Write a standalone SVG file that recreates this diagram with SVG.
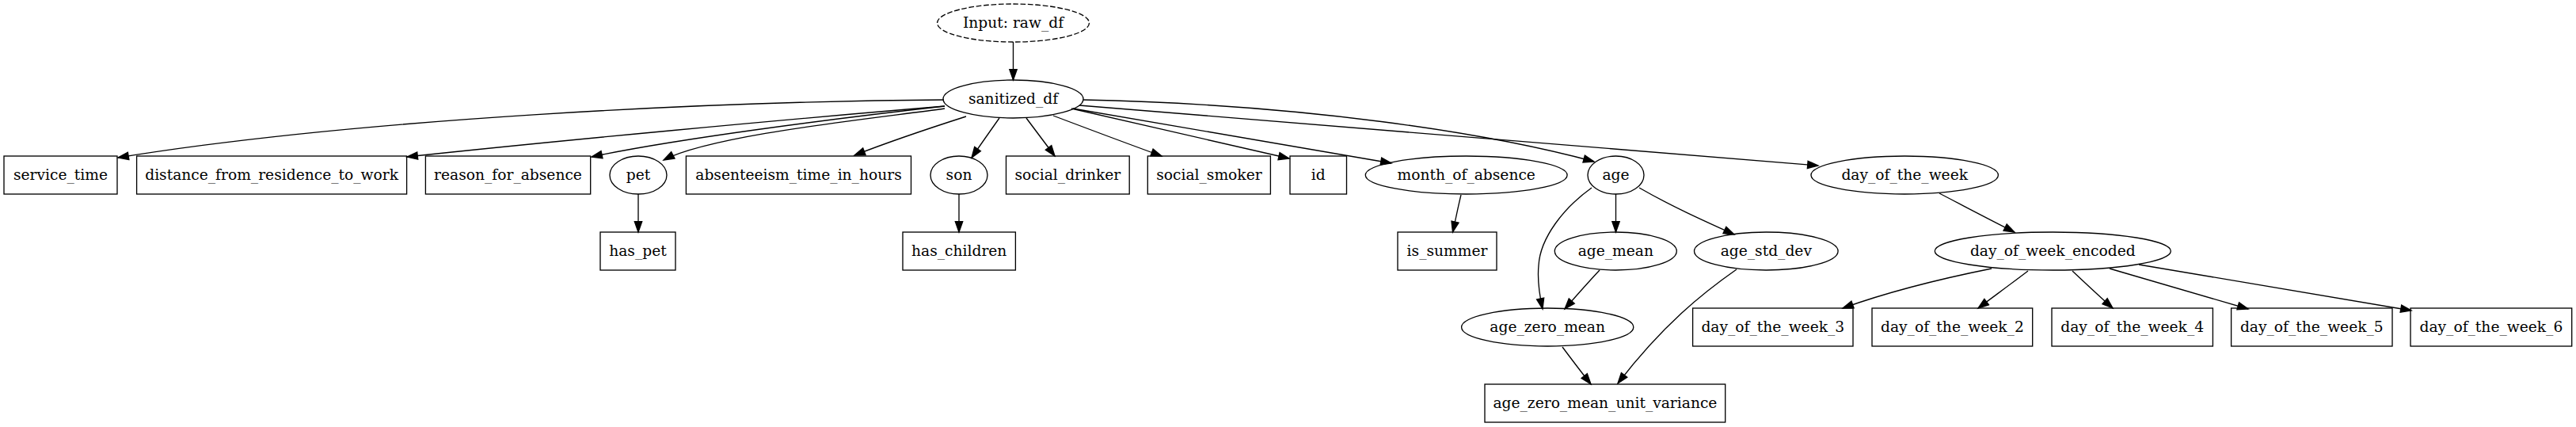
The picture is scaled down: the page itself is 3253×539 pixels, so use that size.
<svg xmlns="http://www.w3.org/2000/svg" width="3253" height="539" viewBox="0 0 3253 539">
<style>
.n ellipse, .n rect { fill: none; stroke: #000; stroke-width: 1.33; }
.dash { stroke-dasharray: 6.67 2.67; }
text { font-family: "DejaVu Serif", "Liberation Serif", serif; font-size: 18.67px; text-anchor: middle; fill: #000; }
#edges path { fill: none; stroke: #000; stroke-width: 1.33; marker-end: url(#ah); }
</style>
<defs>
<marker id="ah" markerUnits="userSpaceOnUse" markerWidth="16" markerHeight="12" refX="13.3" refY="4.67" orient="auto" overflow="visible">
<path d="M0,0 L13.3,4.67 L0,9.33 z" fill="#000" stroke="#000" stroke-width="1.33"/>
</marker>
</defs>
<rect x="0" y="0" width="3253" height="539" fill="#fff"/>
<g id="edges">
<path d="M1279.5,53 L1279.5,101"/>
<path d="M1192,126 C900,128 450,150 149,199"/>
<path d="M1193,134 C1000,150 700,178 514,198"/>
<path d="M1193,134 C1050,150 850,176 747,198"/>
<path d="M1193,137 C1100,150 900,170 838,202"/>
<path d="M1220,147 C1170,163 1120,180 1079,196"/>
<path d="M1262,149 C1250,166 1238,183 1227,199"/>
<path d="M1296,149 C1308,165 1320,181 1332,197"/>
<path d="M1330,146 C1375,163 1420,180 1467,197"/>
<path d="M1353,137 C1445,158 1535,179 1628,200"/>
<path d="M1355,137 C1490,160 1625,183 1757,206"/>
<path d="M1368,126 C1650,132 1880,168 2013,204"/>
<path d="M1363,133 C1700,161 2000,185 2296,209"/>
<path d="M806,245 L806,293"/>
<path d="M1211,245 L1211,293"/>
<path d="M1845,246 C1841,262 1838,278 1834.5,293"/>
<path d="M2040.5,245 L2040.5,293"/>
<path d="M2070,237 C2110,260 2150,278 2190,296"/>
<path d="M2010,237 C1975,262 1945,300 1943,335 C1941,355 1944,372 1948,390"/>
<path d="M2020,341 C2005,357 1990,374 1976,390"/>
<path d="M1973,438 C1985,454 1997,470 2009,485"/>
<path d="M2193,340 C2150,370 2100,410 2043,484"/>
<path d="M2449,244 C2480,260 2512,277 2544,293"/>
<path d="M2515,339 C2450,352 2380,370 2327,389"/>
<path d="M2561,342 C2540,358 2518,374 2498,389"/>
<path d="M2617,342 C2634,358 2651,374 2668,389"/>
<path d="M2664,339 C2722,356 2780,373 2839,390"/>
<path d="M2701,334 C2815,353 2930,372 3045,392"/>
</g>
<g id="raw_df" class="n"><ellipse class="dash" cx="1279.5" cy="29" rx="96" ry="24"/><text x="1279.5" y="34.5">Input: raw_df</text></g>
<g id="sanitized_df" class="n"><ellipse cx="1279.5" cy="125" rx="88.5" ry="24"/><text x="1279.5" y="130.5">sanitized_df</text></g>
<g id="service_time" class="n"><rect x="5" y="197" width="143" height="48"/><text x="76.5" y="226.5">service_time</text></g>
<g id="distance_from_residence_to_work" class="n"><rect x="172.6" y="197" width="341" height="48"/><text x="343.1" y="226.5">distance_from_residence_to_work</text></g>
<g id="reason_for_absence" class="n"><rect x="537.4" y="197" width="208.3" height="48"/><text x="641.5" y="226.5">reason_for_absence</text></g>
<g id="pet" class="n"><ellipse cx="806" cy="221" rx="36" ry="24"/><text x="806" y="226.5">pet</text></g>
<g id="absenteeism_time_in_hours" class="n"><rect x="866.4" y="197" width="284.1" height="48"/><text x="1008.5" y="226.5">absenteeism_time_in_hours</text></g>
<g id="son" class="n"><ellipse cx="1211" cy="221" rx="36" ry="24"/><text x="1211" y="226.5">son</text></g>
<g id="social_drinker" class="n"><rect x="1270.5" y="197" width="155.7" height="48"/><text x="1348.4" y="226.5">social_drinker</text></g>
<g id="social_smoker" class="n"><rect x="1449.3" y="197" width="155.1" height="48"/><text x="1526.9" y="226.5">social_smoker</text></g>
<g id="id" class="n"><rect x="1629" y="197" width="71.5" height="48"/><text x="1664.8" y="226.5">id</text></g>
<g id="month_of_absence" class="n"><ellipse cx="1851.7" cy="221" rx="127.4" ry="24"/><text x="1851.7" y="226.5">month_of_absence</text></g>
<g id="age" class="n"><ellipse cx="2040.5" cy="221" rx="35.5" ry="24"/><text x="2040.5" y="226.5">age</text></g>
<g id="day_of_the_week" class="n"><ellipse cx="2405.2" cy="221" rx="118.2" ry="24"/><text x="2405.2" y="226.5">day_of_the_week</text></g>
<g id="has_pet" class="n"><rect x="758" y="293" width="95" height="48"/><text x="805.5" y="322.5">has_pet</text></g>
<g id="has_children" class="n"><rect x="1140" y="293" width="142.4" height="48"/><text x="1211.2" y="322.5">has_children</text></g>
<g id="is_summer" class="n"><rect x="1765" y="293" width="125" height="48"/><text x="1827.5" y="322.5">is_summer</text></g>
<g id="age_mean" class="n"><ellipse cx="2040.3" cy="317" rx="77" ry="24"/><text x="2040.3" y="322.5">age_mean</text></g>
<g id="age_std_dev" class="n"><ellipse cx="2230.3" cy="317" rx="90.8" ry="24"/><text x="2230.3" y="322.5">age_std_dev</text></g>
<g id="day_of_week_encoded" class="n"><ellipse cx="2592.3" cy="317" rx="149" ry="24"/><text x="2592.3" y="322.5">day_of_week_encoded</text></g>
<g id="age_zero_mean" class="n"><ellipse cx="1954.2" cy="413" rx="108.6" ry="24"/><text x="1954.2" y="418.5">age_zero_mean</text></g>
<g id="day_of_the_week_3" class="n"><rect x="2137.6" y="389" width="202.4" height="48"/><text x="2238.8" y="418.5">day_of_the_week_3</text></g>
<g id="day_of_the_week_2" class="n"><rect x="2364" y="389" width="202.7" height="48"/><text x="2465.4" y="418.5">day_of_the_week_2</text></g>
<g id="day_of_the_week_4" class="n"><rect x="2591" y="389" width="203.4" height="48"/><text x="2692.7" y="418.5">day_of_the_week_4</text></g>
<g id="day_of_the_week_5" class="n"><rect x="2817.6" y="389" width="203.4" height="48"/><text x="2919.3" y="418.5">day_of_the_week_5</text></g>
<g id="day_of_the_week_6" class="n"><rect x="3044" y="389" width="203.7" height="48"/><text x="3145.9" y="418.5">day_of_the_week_6</text></g>
<g id="age_zero_mean_unit_variance" class="n"><rect x="1875" y="485" width="303.7" height="48"/><text x="2026.9" y="514.5">age_zero_mean_unit_variance</text></g>
</svg>
